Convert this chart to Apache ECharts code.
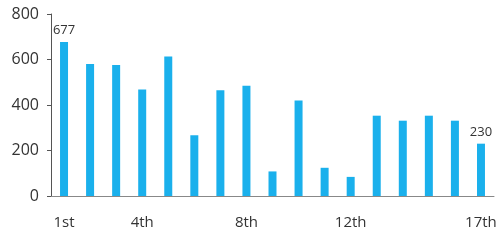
<!DOCTYPE html>
<html>
<head>
<meta charset="utf-8">
<script src="https://cdn.jsdelivr.net/npm/echarts@6/dist/echarts.min.js"></script>
<style>
  html, body { margin: 0; padding: 0; background: #fff; }
  #main { width: 502px; height: 241px; }
</style>
</head>
<body>
<div id="main"></div>
<script>
const categories = ["1st", "2nd", "3rd", "4th", "5th", "6th", "7th", "8th", "9th",
  "10th", "11th", "12th", "13th", "14th", "15th", "16th", "17th"];
const values = [677, 580, 576, 468, 613, 267, 465, 485, 108, 420, 124, 84, 353, 331, 353, 331, 230];
const shownTicks = [0, 3, 7, 11, 16];
const labelledBars = [0, 16];

const chart = echarts.init(document.getElementById("main"));
chart.setOption({
  animation: false,
  grid: { left: 51, right: 8, top: 14, bottom: 45, containLabel: false },
  xAxis: {
    type: "category",
    data: categories,
    axisLine: { lineStyle: { color: "#888" } },
    axisTick: { show: false },
    axisLabel: {
      interval: (i) => shownTicks.includes(i),
      margin: 19,
      color: "#333",
      fontSize: 15,
      fontFamily: "Open Sans"
    }
  },
  yAxis: {
    type: "value",
    min: 0,
    max: 800,
    interval: 200,
    splitLine: { show: false },
    axisLine: { show: true, lineStyle: { color: "#555" } },
    axisTick: { show: true, length: 4, lineStyle: { color: "#555" } },
    axisLabel: {
      margin: 12,
      color: "#333",
      fontSize: 16,
      fontFamily: "Open Sans"
    }
  },
  series: [{
    type: "bar",
    data: values,
    barWidth: 8,
    itemStyle: { color: "#1ab0ec" },
    label: {
      show: true,
      position: "top",
      distance: 5,
      color: "#333",
      fontSize: 13,
      fontFamily: "Open Sans",
      formatter: (p) => labelledBars.includes(p.dataIndex) ? String(p.value) : ""
    }
  }]
});
</script>
</body>
</html>
